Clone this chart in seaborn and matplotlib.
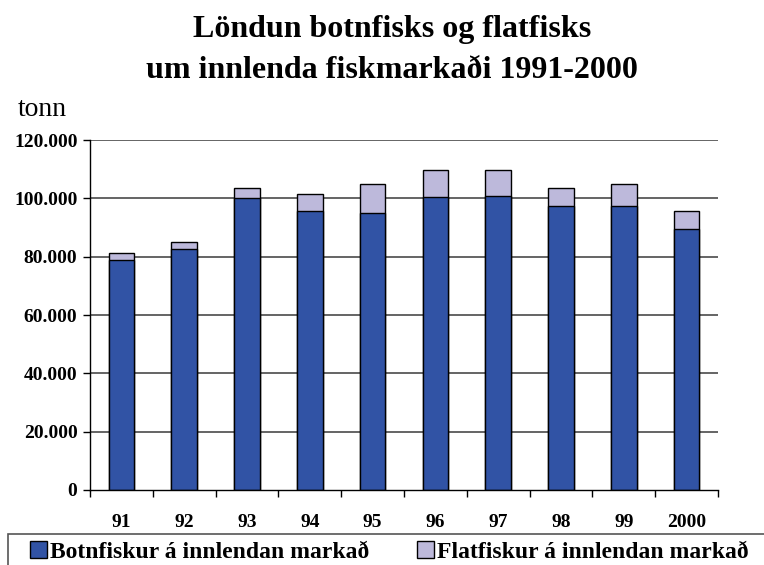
import matplotlib
matplotlib.use("Agg")
import matplotlib.pyplot as plt
import pandas as pd
import seaborn as sns
from matplotlib.patches import Rectangle
from matplotlib.ticker import FuncFormatter

# Data (thousand tonn)
years = ["91", "92", "93", "94", "95", "96", "97", "98", "99", "2000"]
botnfiskur = [79.0, 82.6, 100.0, 95.6, 94.9, 100.3, 100.7, 97.3, 97.3, 89.4]
flatfiskur = [2.1, 2.4, 3.6, 5.8, 10.0, 9.3, 8.9, 6.3, 7.5, 6.4]

df = pd.DataFrame({"ar": years, "botn": botnfiskur, "flat": flatfiskur})
df["samtals"] = df["botn"] + df["flat"]

sns.set_style("white")
plt.rcParams["font.family"] = ["Liberation Serif", "DejaVu Serif"]
plt.rcParams["text.color"] = "black"
plt.rcParams["xtick.color"] = "black"
plt.rcParams["ytick.color"] = "black"

fig = plt.figure(figsize=(7.64, 5.65), dpi=100)
ax = fig.add_axes([90 / 764, 75 / 565, 628 / 764, 350 / 565])

# Stacked: draw total first, then bottom segment over it
sns.barplot(data=df, x="ar", y="samtals", color="#bdb9db", edgecolor="black",
            linewidth=1, width=0.41, saturation=1, ax=ax,
            label="Flatfiskur á innlendan markað")
sns.barplot(data=df, x="ar", y="botn", color="#3153a5", edgecolor="black",
            linewidth=1, width=0.41, saturation=1, ax=ax,
            label="Botnfiskur á innlendan markað")

ax.set_ylim(0, 120)
ax.set_xlim(-0.5, len(years) - 0.5)
ax.set_yticks(range(0, 121, 20))
ax.yaxis.set_major_formatter(FuncFormatter(lambda v, p: "0" if v == 0 else f"{int(v)}.000"))
for y in range(20, 121, 20):
    ax.axhline(y, color="#4a4a4a", linewidth=1.2, zorder=0)

ax.set_xticks(range(len(years)))
ax.set_xticklabels(years)
ax.set_xticks([i + 0.5 for i in range(-1, len(years))], minor=True)
ax.tick_params(axis="x", which="major", length=0, pad=17, labelsize=14)
ax.tick_params(axis="x", which="minor", length=5, width=1, direction="out")
ax.tick_params(axis="y", length=5, width=1, direction="out", labelsize=14, pad=4)
ax.tick_params(left=True, bottom=True, which="both")
for lbl in ax.get_xticklabels() + ax.get_yticklabels():
    lbl.set_fontweight("bold")

for s in ["top", "right"]:
    ax.spines[s].set_visible(False)
for s in ["left", "bottom"]:
    ax.spines[s].set_color("black")
    ax.spines[s].set_linewidth(1)
ax.set_xlabel("")
ax.set_ylabel("")
if ax.legend_:
    ax.legend_.remove()

fig.text(392 / 764, 1 - 29 / 565, "Löndun botnfisks og flatfisks", ha="center", va="center",
         fontsize=23, fontweight="bold")
fig.text(392 / 764, 1 - 71 / 565, "um innlenda fiskmarkaði 1991-2000", ha="center", va="center",
         fontsize=23, fontweight="bold")
fig.text(18 / 764, 1 - 110 / 565, "tonn", ha="left", va="center", fontsize=20)

# legend box running off the bottom/right edge
fig.patches.append(Rectangle((8 / 764, -0.1), 1.0, 0.1 + (565 - 534) / 565,
                             transform=fig.transFigure, fill=False,
                             edgecolor="#555555", linewidth=1.2))

handles, labels = ax.get_legend_handles_labels()
for name, x0 in [("Botnfiskur á innlendan markað", 30), ("Flatfiskur á innlendan markað", 417)]:
    i = labels.index(name)
    fig.legend([handles[i]], [labels[i]], loc="center left",
               bbox_to_anchor=(x0 / 764, 1 - 552 / 565), frameon=False,
               handlelength=0.7, handleheight=0.7, handletextpad=0.15,
               borderaxespad=0, borderpad=0,
               prop={"weight": "bold", "size": 17})

fig.savefig("out.png", dpi=100)
